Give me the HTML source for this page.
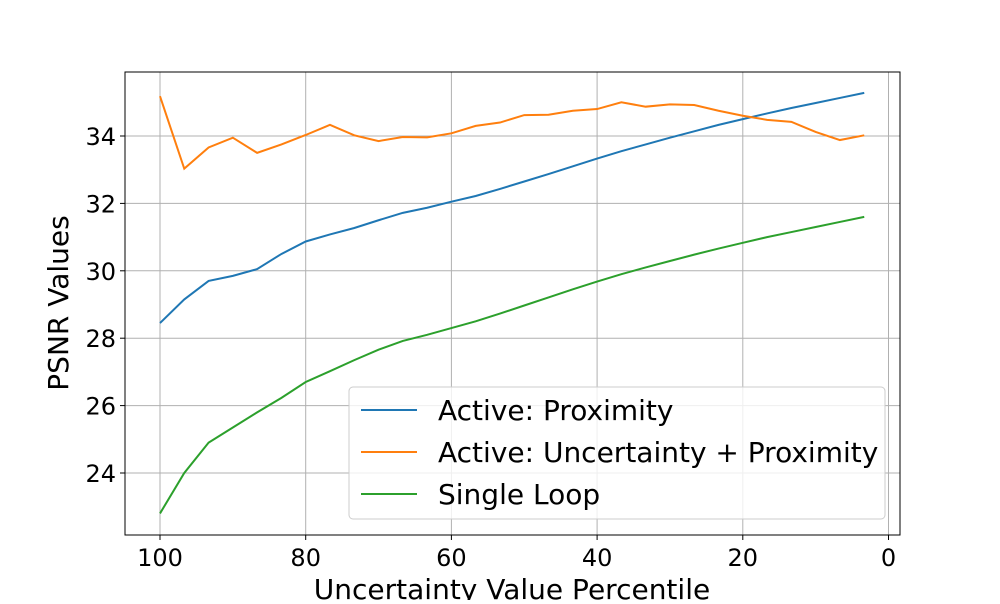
<!DOCTYPE html>
<html><head><meta charset="utf-8"><style>
body{margin:0;background:#fff;width:1000px;height:600px;overflow:hidden;font-family:"DejaVu Sans","Liberation Sans",sans-serif}
</style></head><body>
<svg id="chart" width="1000" height="600" xmlns="http://www.w3.org/2000/svg"></svg>
<script>
const xValues=[100,96.67,93.33,90,86.67,83.33,80,76.67,73.33,70,66.67,63.33,60,56.67,53.33,50,46.67,43.33,40,36.67,33.33,30,26.67,23.33,20,16.67,13.33,10,6.67,3.33];
const proximity=[28.45,29.15,29.7,29.85,30.05,30.5,30.87,31.08,31.27,31.5,31.72,31.87,32.05,32.22,32.43,32.65,32.87,33.1,33.33,33.55,33.75,33.95,34.14,34.33,34.5,34.67,34.83,34.98,35.13,35.28];
const uncertaintyProximity=[35.18,33.03,33.66,33.95,33.5,33.75,34.03,34.33,34.02,33.85,33.97,33.96,34.08,34.3,34.4,34.62,34.63,34.75,34.8,35.0,34.87,34.94,34.92,34.75,34.6,34.48,34.42,34.12,33.88,34.02];
const singleLoop=[22.8,24.0,24.9,25.35,25.8,26.23,26.7,27.02,27.35,27.66,27.92,28.1,28.3,28.5,28.73,28.97,29.21,29.45,29.68,29.9,30.1,30.29,30.48,30.66,30.83,31.0,31.15,31.3,31.45,31.6];
const xTicks=[100,80,60,40,20,0];
const yTicks=[24,26,28,30,32,34];
const seriesNames=["Active: Proximity","Active: Uncertainty + Proximity","Single Loop"];
const colors=["#1f77b4","#ff7f0e","#2ca02c"];

const L=125,R=900,T=72,B=535;
const xs=v=>160+(100-v)*7.285;
const ys=v=>136+(34-v)*33.7;
const svg=document.getElementById('chart');
const NS="http://www.w3.org/2000/svg";
function mk(tag,attrs,parent){const e=document.createElementNS(NS,tag);for(const k in attrs)e.setAttribute(k,attrs[k]);(parent||svg).appendChild(e);return e;}

xTicks.forEach(t=>{
  const g=mk('line',{x1:xs(t),x2:xs(t),y1:T,y2:B,stroke:'#b0b0b0','stroke-width':1});
  
  
  mk('line',{x1:xs(t),x2:xs(t),y1:B,y2:B+5,stroke:'#000'});
  const tx=mk('text',{x:xs(t),y:B+31,'text-anchor':'middle','font-size':24,fill:'#000'});
  tx.textContent=t;
  
  
});
yTicks.forEach(t=>{
  const g=mk('line',{x1:L,x2:R,y1:ys(t),y2:ys(t),stroke:'#b0b0b0','stroke-width':1});
  
  
  mk('line',{x1:L-5,x2:L,y1:ys(t),y2:ys(t),stroke:'#000'});
  const tx=mk('text',{x:L-9,y:ys(t)+9,'text-anchor':'end','font-size':24,fill:'#000'});
  tx.textContent=t;
  
  
});
const frame=mk('rect',{x:L,y:T,width:R-L,height:B-T,fill:'none',stroke:'#000','stroke-width':1});



[proximity,uncertaintyProximity,singleLoop].forEach((s,i)=>{
  const p=mk('polyline',{points:s.map((v,j)=>xs(xValues[j])+','+ys(v)).join(' '),fill:'none',stroke:colors[i],'stroke-width':2});
  
  
});

const xl=mk('text',{x:512,y:599,'text-anchor':'middle','font-size':28,fill:'#000'});
xl.textContent='Uncertainty Value Percentile';


const yl=mk('text',{x:0,y:0,'text-anchor':'middle','font-size':28,fill:'#000',transform:'translate(68,303) rotate(-90)'});
yl.textContent='PSNR Values';



const lg=mk('g',{});


mk('rect',{x:349,y:387,width:536,height:132,rx:4,fill:'#fff','fill-opacity':0.8,stroke:'#ccc'},lg);
seriesNames.forEach((n,i)=>{
  const y=410+i*42;
  mk('line',{x1:361,x2:417,y1:y,y2:y,stroke:colors[i],'stroke-width':2},lg);
  const t=mk('text',{x:438,y:y+10,'font-size':28,fill:'#000'},lg);
  t.textContent=n;
  
  
});
</script>
</body></html>
